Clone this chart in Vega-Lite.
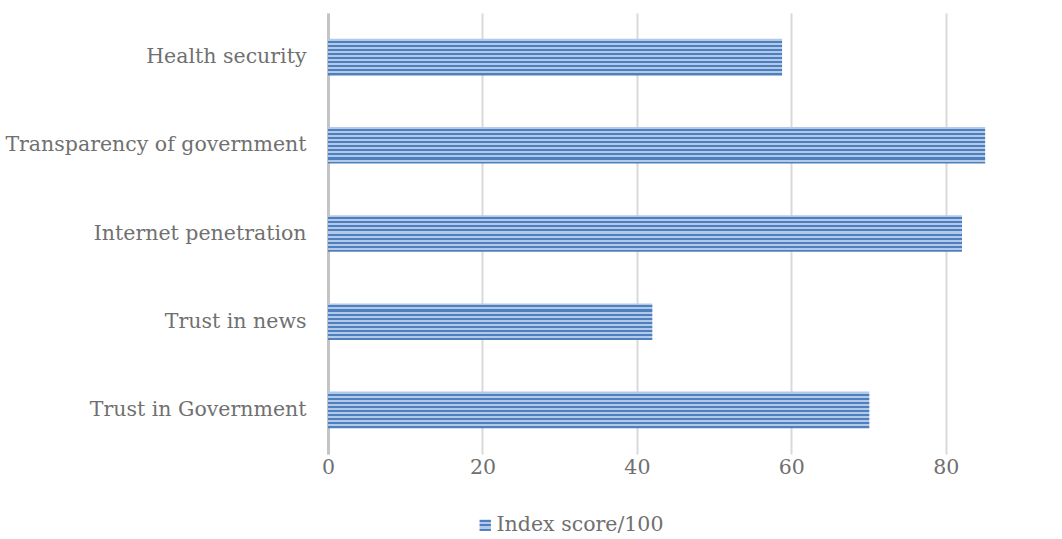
{
  "$schema": "https://vega.github.io/schema/vega-lite/v6.json",
  "width": 695,
  "height": 441,
  "autosize": {"type": "none"},
  "padding": {"left": 328, "top": 13, "right": 39, "bottom": 85},
  "background": "#ffffff",
  "config": {
    "view": {"stroke": null},
    "font": "DejaVu Serif"
  },
  "data": {
    "values": [
      {"indicator": "Health security", "score": 58.8, "series": "Index score/100"},
      {"indicator": "Transparency of government", "score": 85.1, "series": "Index score/100"},
      {"indicator": "Internet penetration", "score": 82.1, "series": "Index score/100"},
      {"indicator": "Trust in news", "score": 42, "series": "Index score/100"},
      {"indicator": "Trust in Government", "score": 70.1, "series": "Index score/100"}
    ]
  },
  "mark": {
    "type": "bar",
    "cornerRadius": 0,
    "strokeWidth": 0,
    "fill": {
      "gradient": "linear",
      "x1": 0, "y1": 0, "x2": 0, "y2": 1,
      "stops": [
        {"offset": 0, "color": "#b3c9e8"},
        {"offset": 0.0555, "color": "#b3c9e8"},
        {"offset": 0.0555, "color": "#4e7fbf"},
        {"offset": 0.1111, "color": "#4e7fbf"},
        {"offset": 0.1111, "color": "#b3c9e8"},
        {"offset": 0.1666, "color": "#b3c9e8"},
        {"offset": 0.1666, "color": "#4e7fbf"},
        {"offset": 0.2222, "color": "#4e7fbf"},
        {"offset": 0.2222, "color": "#b3c9e8"},
        {"offset": 0.2777, "color": "#b3c9e8"},
        {"offset": 0.2777, "color": "#4e7fbf"},
        {"offset": 0.3333, "color": "#4e7fbf"},
        {"offset": 0.3333, "color": "#b3c9e8"},
        {"offset": 0.3888, "color": "#b3c9e8"},
        {"offset": 0.3888, "color": "#4e7fbf"},
        {"offset": 0.4444, "color": "#4e7fbf"},
        {"offset": 0.4444, "color": "#b3c9e8"},
        {"offset": 0.5, "color": "#b3c9e8"},
        {"offset": 0.5, "color": "#4e7fbf"},
        {"offset": 0.5555, "color": "#4e7fbf"},
        {"offset": 0.5555, "color": "#b3c9e8"},
        {"offset": 0.6111, "color": "#b3c9e8"},
        {"offset": 0.6111, "color": "#4e7fbf"},
        {"offset": 0.6666, "color": "#4e7fbf"},
        {"offset": 0.6666, "color": "#b3c9e8"},
        {"offset": 0.7222, "color": "#b3c9e8"},
        {"offset": 0.7222, "color": "#4e7fbf"},
        {"offset": 0.7777, "color": "#4e7fbf"},
        {"offset": 0.7777, "color": "#b3c9e8"},
        {"offset": 0.8333, "color": "#b3c9e8"},
        {"offset": 0.8333, "color": "#4e7fbf"},
        {"offset": 0.8888, "color": "#4e7fbf"},
        {"offset": 0.8888, "color": "#b3c9e8"},
        {"offset": 0.9444, "color": "#b3c9e8"},
        {"offset": 0.9444, "color": "#4e7fbf"},
        {"offset": 1, "color": "#4e7fbf"}
      ]
    }
  },
  "encoding": {
    "y": {
      "field": "indicator",
      "type": "nominal",
      "sort": null,
      "scale": {"paddingInner": 0.585, "paddingOuter": 0.2925},
      "axis": {
        "title": null,
        "ticks": false,
        "domainColor": "#c4c4c4",
        "domainWidth": 3,
        "labelFont": "DejaVu Serif",
        "labelFontSize": 20.5,
        "labelColor": "#707070",
        "labelPadding": 22,
        "labelLimit": 400
      }
    },
    "x": {
      "field": "score",
      "type": "quantitative",
      "scale": {"domain": [0, 90], "nice": false},
      "axis": {
        "title": null,
        "values": [0, 20, 40, 60, 80],
        "domain": false,
        "ticks": false,
        "grid": true,
        "gridColor": "#d9d9d9",
        "gridWidth": 2,
        "labelFont": "DejaVu Serif",
        "labelFontSize": 20.5,
        "labelColor": "#707070",
        "labelPadding": 3,
        "labelFlush": false
      }
    },
    "stroke": {
      "field": "series",
      "type": "nominal",
      "scale": {"range": ["#4e7fbf"]},
      "legend": {
        "title": null,
        "orient": "none",
        "legendX": 147,
        "legendY": 502,
        "symbolType": "square",
        "symbolSize": 130,
        "symbolFillColor": "#4e7fbf",
        "symbolStrokeWidth": 0,
        "labelFont": "DejaVu Serif",
        "labelFontSize": 20.5,
        "labelColor": "#707070",
        "labelOffset": 1,
        "labelLimit": 400
      }
    }
  }
}
